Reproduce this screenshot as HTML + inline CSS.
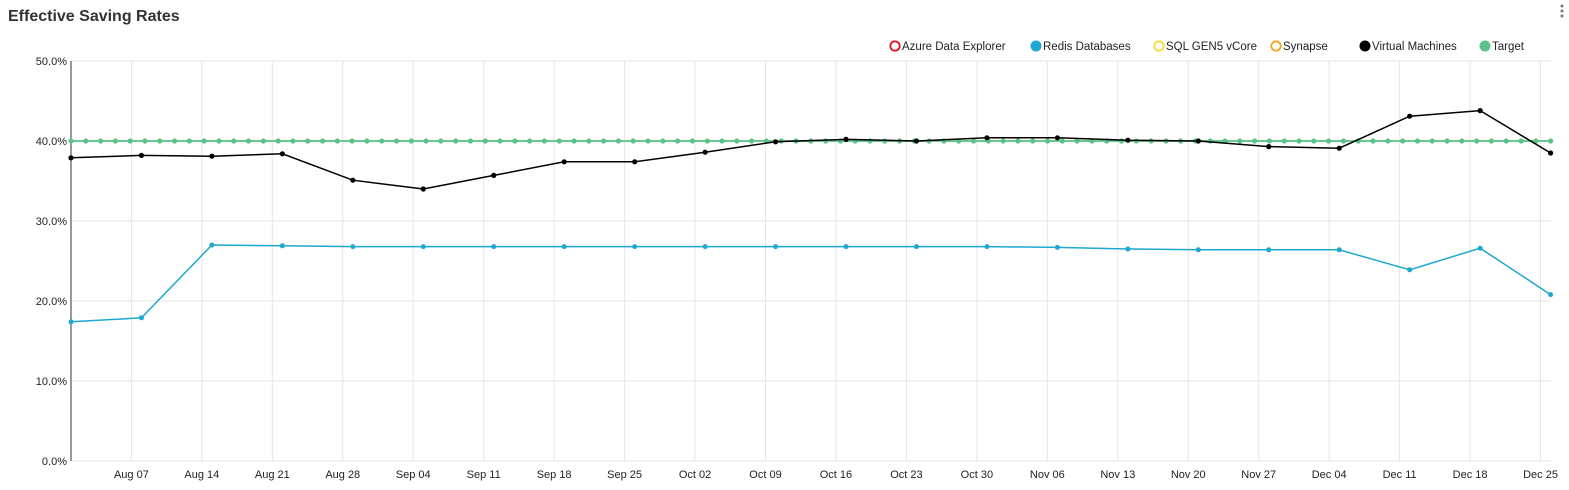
<!DOCTYPE html>
<html><head><meta charset="utf-8"><style>
body{margin:0;background:#fff;font-family:"Liberation Sans",sans-serif;}
svg{display:block}
</style></head><body>
<svg id="c" width="1569" height="490">
<text x="8" y="21" font-size="16" font-weight="bold" fill="#333">Effective Saving Rates</text>
<g><circle cx="1562" cy="6" r="1.5" fill="#777"/><circle cx="1562" cy="11" r="1.5" fill="#777"/><circle cx="1562" cy="16" r="1.5" fill="#777"/></g>
<g id="grid"></g><g id="axes"></g><g id="series"></g><g id="legend"></g>
</svg>
<script>
const yTicks=[0,10,20,30,40,50];
const xTickLabels=["Aug 07","Aug 14","Aug 21","Aug 28","Sep 04","Sep 11","Sep 18","Sep 25","Oct 02","Oct 09","Oct 16","Oct 23","Oct 30","Nov 06","Nov 13","Nov 20","Nov 27","Dec 04","Dec 11","Dec 18","Dec 25"];
const vmValues=[37.9,38.2,38.1,38.4,35.1,34.0,35.7,37.4,37.4,38.6,39.9,40.2,40.0,40.4,40.4,40.1,40.0,39.3,39.1,43.1,43.8,38.5];
const redisValues=[17.4,17.9,27.0,26.9,26.8,26.8,26.8,26.8,26.8,26.8,26.8,26.8,26.8,26.8,26.7,26.5,26.4,26.4,26.4,23.9,26.6,20.8];
const targetValues=[40,40,40,40,40,40,40,40,40,40,40,40,40,40,40,40,40,40,40,40,40,40,40,40,40,40,40,40,40,40,40,40,40,40,40,40,40,40,40,40,40,40,40,40,40,40,40,40,40,40,40,40,40,40,40,40,40,40,40,40,40,40,40,40,40,40,40,40,40,40,40,40,40,40,40,40,40,40,40,40,40,40,40,40,40,40,40,40,40,40,40,40,40,40,40,40,40,40,40,40,40];
const legendNames=["Azure Data Explorer","Redis Databases","SQL GEN5 vCore","Synapse","Virtual Machines","Target"];
const legendColors=["#e8141c","#1ea7cf","#f7dc35","#f5a623","#000","#5cc28a"];
const legendFilled=[false,true,false,false,true,true];

const NS="http://www.w3.org/2000/svg";
const X0=71,X1=1550.6,Y0=461,Y1=61,DAYS=147;
const xDay=d=>X0+(X1-X0)*d/DAYS;
const yV=v=>Y0-(Y0-Y1)*v/50;
function mk(t,a,p){const e=document.createElementNS(NS,t);for(const k in a)e.setAttribute(k,a[k]);p.appendChild(e);return e;}
const grid=document.getElementById('grid'),axes=document.getElementById('axes'),ser=document.getElementById('series'),leg=document.getElementById('legend');
yTicks.forEach(v=>{
 const l=mk('line',{x1:X0,x2:X1,y1:yV(v),y2:yV(v),stroke:'#e6e6e6'},grid);
 
 
 const t=mk('text',{x:X0-4,y:yV(v)+4,'text-anchor':'end','font-size':11,fill:'#222'},axes);
 t.textContent=v.toFixed(1)+'%';
 
 
});
xTickLabels.forEach((s,i)=>{
 const x=xDay(6+7*i);
 const l=mk('line',{x1:x,x2:x,y1:Y1,y2:Y0,stroke:'#e6e6e6'},grid);
 
 
 const t=mk('text',{x:x,y:478,'text-anchor':'middle','font-size':11,fill:'#222'},axes);
 t.textContent=s;
 
 
});
const ya=mk('line',{x1:X0,x2:X0,y1:Y1,y2:Y0,stroke:'#333'},axes);


function series(vals,step,color,r,name,w,op){
 const pts=vals.map((v,i)=>[xDay(i*step),yV(v)]);
 const p=mk('polyline',{points:pts.map(q=>q.join(',')).join(' '),fill:'none',stroke:color,'stroke-width':w,opacity:op},ser);
 
 
 pts.forEach(q=>{const c=mk('circle',{cx:q[0],cy:q[1],r:r,fill:color},ser);
  
  });
}
series(targetValues,DAYS/(targetValues.length-1),'#5cc28a',2.6,'target',2,0.9);
series(redisValues,7,'#1ea7cf',2.5,'redis',1.5,1);
series(vmValues,7,'#000',2.6,'virtual-machines',1.5,1);
const lx=[895,1036,1159,1276,1365,1485];
legendNames.forEach((n,i)=>{
 const g=mk('g',{},leg);
 
 
 mk('circle',{cx:lx[i],cy:46,r:legendFilled[i]?5.5:4.7,fill:legendFilled[i]?legendColors[i]:'#fff',stroke:legendColors[i],'stroke-width':legendFilled[i]?0:1.8},g);
 const t=mk('text',{x:lx[i]+7,y:50,'font-size':11.5,fill:'#222'},g);
 t.textContent=n;
});
</script>
</body></html>
